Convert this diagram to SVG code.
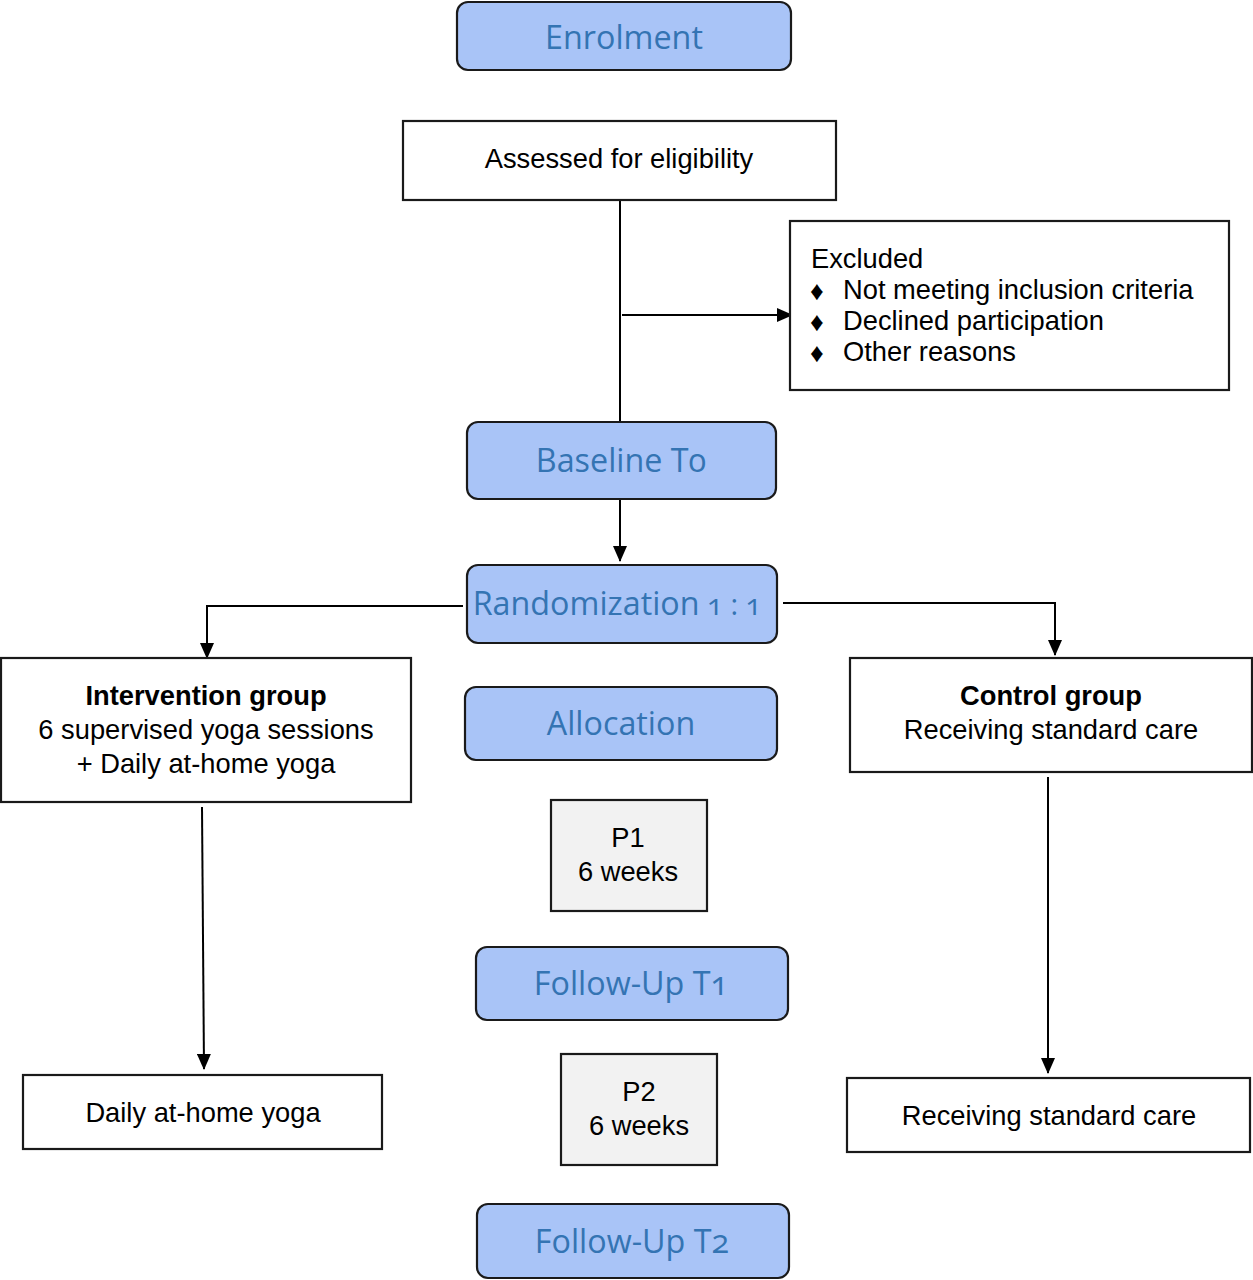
<svg xmlns="http://www.w3.org/2000/svg" width="1253" height="1280" viewBox="0 0 1253 1280">
<style>
.phase{fill:#A9C4F7;stroke:#1a1a1a;stroke-width:2.2}
.box{fill:#ffffff;stroke:#1a1a1a;stroke-width:2.2}
.gbox{fill:#F2F2F2;stroke:#1a1a1a;stroke-width:2.2}
.pt{font-family:"Open Sans","Lato",sans-serif;font-size:32.3px;fill:#3474B3;text-anchor:middle;font-variant-numeric:oldstyle-nums}
.t{font-family:"Liberation Sans",Arial,sans-serif;font-size:27.3px;fill:#000;text-anchor:middle}
.tl{font-family:"Liberation Sans",Arial,sans-serif;font-size:27.3px;fill:#000}
.d{font-size:27px}
.b{font-weight:bold}
.ln{fill:none;stroke:#000;stroke-width:2}
</style>
<defs>
<marker id="ah" markerWidth="16" markerHeight="14" refX="15" refY="7" orient="auto" markerUnits="userSpaceOnUse">
<path d="M0,0 L16,7 L0,14 Z" fill="#000"/>
</marker>
</defs>
<rect width="1253" height="1280" fill="#fff"/>
<g id="connectors">
<line class="ln" x1="620" y1="200" x2="620" y2="422"/>
<line class="ln" x1="622" y1="315" x2="792" y2="315" marker-end="url(#ah)"/>
<line class="ln" x1="620" y1="500" x2="620" y2="561" marker-end="url(#ah)"/>
<polyline class="ln" points="463,606 207,606 207,658" marker-end="url(#ah)"/>
<polyline class="ln" points="783,603 1055,603 1055,655" marker-end="url(#ah)"/>
<line class="ln" x1="202" y1="807" x2="204" y2="1069" marker-end="url(#ah)"/>
<line class="ln" x1="1048" y1="777" x2="1048" y2="1073" marker-end="url(#ah)"/>
</g>
<g id="enrolment">
<rect class="phase" x="457" y="2" width="334" height="68" rx="11"/>
<text class="pt" x="624" y="49">Enrolment</text>
</g>
<g id="assessed">
<rect class="box" x="403" y="121" width="433" height="79"/>
<text class="t" x="619" y="168">Assessed for eligibility</text>
</g>
<g id="excluded">
<rect class="box" x="790" y="221" width="439" height="169"/>
<text class="tl" x="811" y="268">Excluded</text>
<text class="tl d" x="810" y="300">♦</text>
<text class="tl" x="843" y="299">Not meeting inclusion criteria</text>
<text class="tl d" x="810" y="331">♦</text>
<text class="tl" x="843" y="330">Declined participation</text>
<text class="tl d" x="810" y="362">♦</text>
<text class="tl" x="843" y="361">Other reasons</text>
</g>
<g id="baseline">
<rect class="phase" x="467" y="422" width="309" height="77" rx="11"/>
<text class="pt" x="621" y="472">Baseline T0</text>
</g>
<g id="randomization">
<rect class="phase" x="467" y="565" width="310" height="78" rx="11"/>
<text class="pt" x="617" y="615">Randomization<tspan font-size="29"> 1 : 1</tspan></text>
</g>
<g id="intervention">
<rect class="box" x="1" y="658" width="410" height="144"/>
<text class="t b" x="206" y="705">Intervention group</text>
<text class="t" x="206" y="739">6 supervised yoga sessions</text>
<text class="t" x="206" y="773">+ Daily at-home yoga</text>
</g>
<g id="allocation">
<rect class="phase" x="465" y="687" width="312" height="73" rx="11"/>
<text class="pt" x="621" y="735">Allocation</text>
</g>
<g id="control">
<rect class="box" x="850" y="658" width="402" height="114"/>
<text class="t b" x="1051" y="705">Control group</text>
<text class="t" x="1051" y="739">Receiving standard care</text>
</g>
<g id="p1">
<rect class="gbox" x="551" y="800" width="156" height="111"/>
<text class="t" x="628" y="847">P1</text>
<text class="t" x="628" y="881">6 weeks</text>
</g>
<g id="followup1">
<rect class="phase" x="476" y="947" width="312" height="73" rx="11"/>
<text class="pt" x="631" y="995">Follow-Up T1</text>
</g>
<g id="p2">
<rect class="gbox" x="561" y="1054" width="156" height="111"/>
<text class="t" x="639" y="1101">P2</text>
<text class="t" x="639" y="1135">6 weeks</text>
</g>
<g id="followup2">
<rect class="phase" x="477" y="1204" width="312" height="74" rx="11"/>
<text class="pt" x="632" y="1253">Follow-Up T2</text>
</g>
<g id="daily">
<rect class="box" x="23" y="1075" width="359" height="74"/>
<text class="t" x="203" y="1122">Daily at-home yoga</text>
</g>
<g id="receiving">
<rect class="box" x="847" y="1078" width="403" height="74"/>
<text class="t" x="1049" y="1125">Receiving standard care</text>
</g>
</svg>
